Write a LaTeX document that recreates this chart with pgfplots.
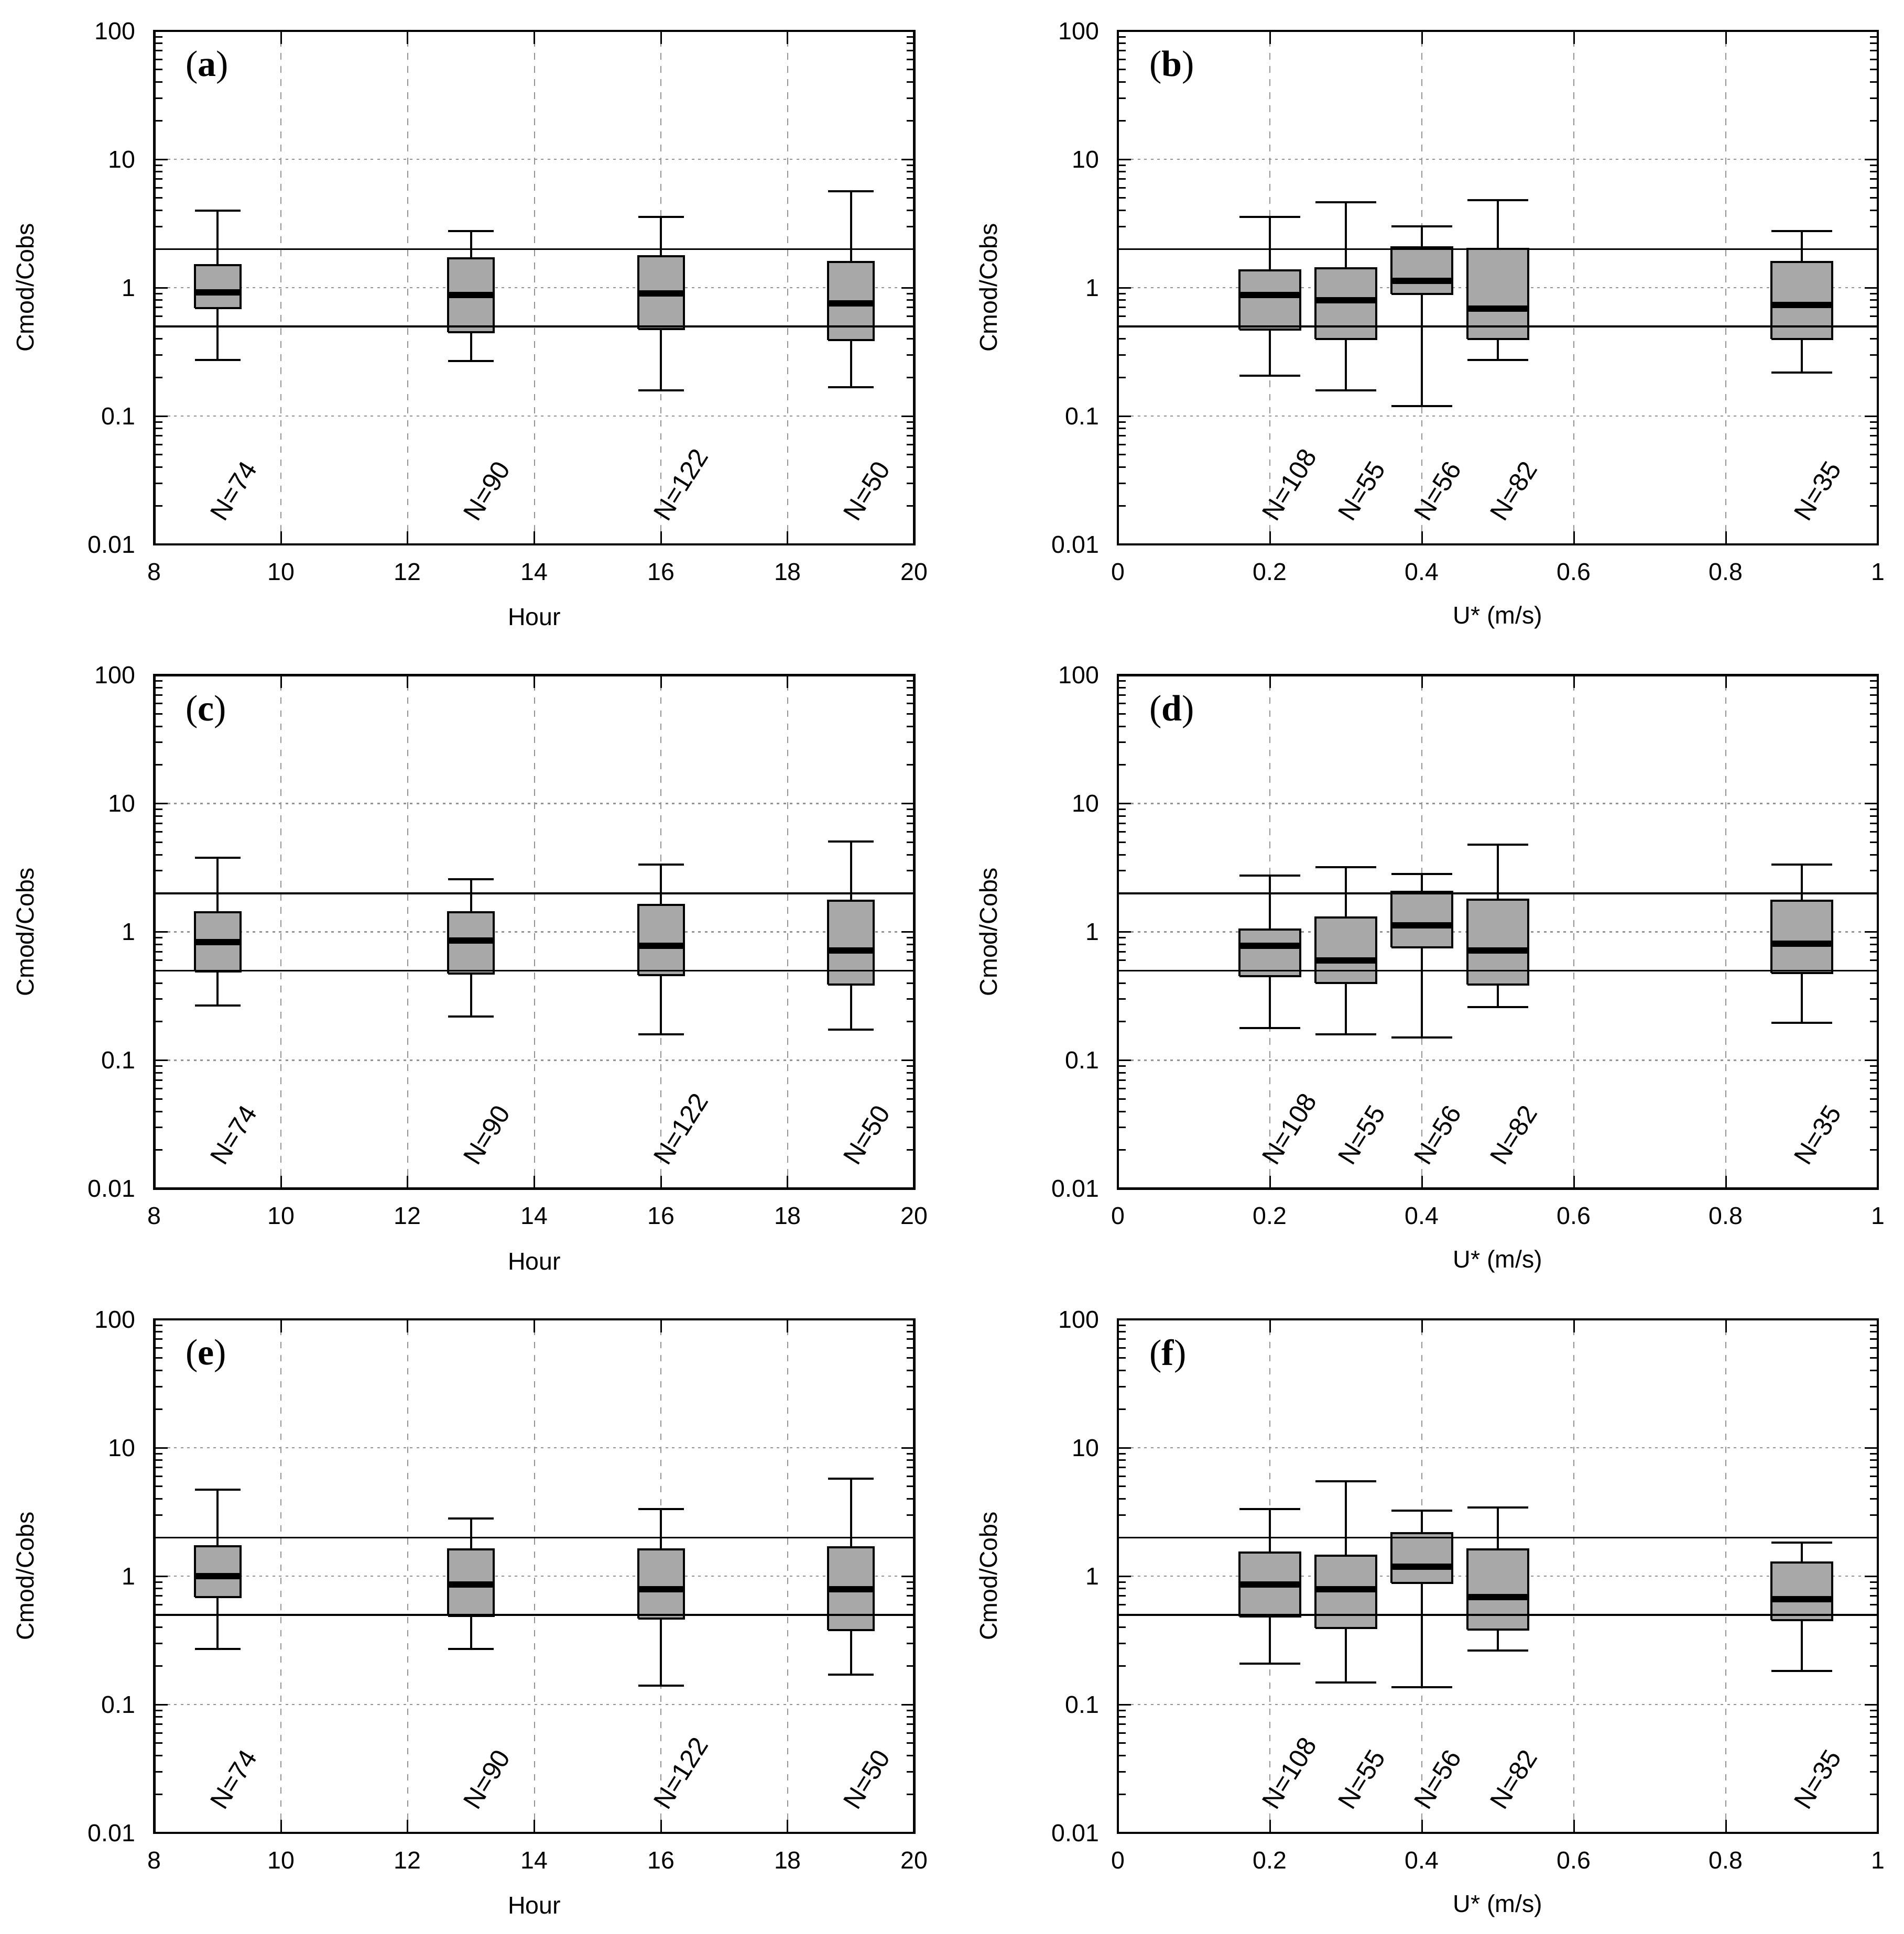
\documentclass[border=0pt]{standalone}
\usepackage{fontspec}
\setmainfont{Liberation Serif}
\setsansfont{Liberation Sans}
\usepackage{pgfplots}
\pgfplotsset{compat=1.18}
\usepgfplotslibrary{groupplots}
\definecolor{boxgray}{RGB}{168,168,168}

% #1 left, #2 centre, #3 right, #4 lower whisker, #5 q1, #6 median, #7 q3, #8 upper whisker
\newcommand\bx[8]{%
\addplot[draw=black, line width=0.8pt, fill=boxgray] coordinates {(#1,#5) (#3,#5) (#3,#7) (#1,#7) (#1,#5)};
\addplot[black, line width=0.8pt] coordinates {(#2,#7) (#2,#8)};
\addplot[black, line width=0.8pt] coordinates {(#1,#8) (#3,#8)};
\addplot[black, line width=0.8pt] coordinates {(#2,#4) (#2,#5)};
\addplot[black, line width=0.8pt] coordinates {(#1,#4) (#3,#4)};
\addplot[black, line width=2.4pt] coordinates {(#1,#6) (#3,#6)};
}
\newcommand\nl[2]{\node[rotate=58, anchor=south west, inner sep=0pt, font=\sffamily\fontsize{10}{12}\selectfont] at ([xshift=2.7pt]axis cs:#1,0.0146) {N=#2};}
\newcommand\pl[1]{\node[anchor=west, inner sep=0pt, font=\rmfamily\fontsize{14}{16}\selectfont] at ([xshift=11.8pt,yshift=-14pt]rel axis cs:0,1) {(\textbf{#1})};}
\newcommand\reflinesH{%
\addplot[black, line width=0.7pt] coordinates {(8,2) (20,2)};
\addplot[black, line width=0.7pt] coordinates {(8,0.5) (20,0.5)};}
\newcommand\reflinesU{%
\addplot[black, line width=0.7pt] coordinates {(0,2) (1,2)};
\addplot[black, line width=0.7pt] coordinates {(0,0.5) (1,0.5)};}

\pgfplotsset{
  hourax/.style={xmin=8, xmax=20, xtick={8,10,12,14,16,18,20}, xticklabels={8,10,12,14,16,18,20}, xlabel={Hour}},
  uax/.style={xmin=0, xmax=1, xtick={0,0.2,0.4,0.6,0.8,1}, xticklabels={0,0.2,0.4,0.6,0.8,1}, xlabel={U* (m/s)}},
}

\begin{document}
\begin{tikzpicture}
\begin{groupplot}[
  group style={group name=G, group size=2 by 3, horizontal sep=77.7pt, vertical sep=49.9pt},
  width=290pt, height=196pt, scale only axis,
  ymode=log, ymin=0.01, ymax=100,
  ytick={0.01,0.1,1,10,100}, yticklabels={0.01,0.1,1,10,100},
  tick align=inside,
  major tick length=5pt, minor tick length=3pt,
  xmajorgrids, ymajorgrids,
  x grid style={gray!85, dash pattern=on 2.5pt off 2.5pt, line width=0.4pt},
  y grid style={gray!85, dash pattern=on 1pt off 1.5pt, line width=0.5pt},
  axis line style={line width=0.9pt},
  every tick/.style={black, line width=0.6pt},
  tick label style={font=\sffamily\fontsize{9.3}{11}\selectfont},
  label style={font=\sffamily\fontsize{9.3}{11}\selectfont},
  ylabel={Cmod/Cobs},
  ylabel style={at={(axis description cs:-0.1703,0.5)}, anchor=center},
  xlabel style={at={(axis description cs:0.5,-0.1418)}, anchor=center},
  yticklabel style={inner sep=0pt, xshift=-7pt},
  xticklabel style={inner sep=0pt, yshift=-7pt},
  no markers,
]
% (a)
\nextgroupplot[hourax]
\bx{8.64}{9}{9.36}{0.273}{0.69}{0.92}{1.50}{3.99}
\bx{12.64}{13}{13.36}{0.268}{0.451}{0.874}{1.69}{2.75}
\bx{15.64}{16}{16.36}{0.159}{0.474}{0.90}{1.75}{3.55}
\bx{18.64}{19}{19.36}{0.168}{0.389}{0.755}{1.59}{5.66}
\reflinesH
\nl{9}{74}\nl{13}{90}\nl{16}{122}\nl{19}{50}
\pl{a}
% (b)
\nextgroupplot[uax]
\bx{0.16}{0.2}{0.24}{0.206}{0.471}{0.874}{1.37}{3.55}
\bx{0.26}{0.3}{0.34}{0.159}{0.399}{0.797}{1.42}{4.62}
\bx{0.36}{0.4}{0.44}{0.119}{0.895}{1.13}{2.06}{2.99}
\bx{0.46}{0.5}{0.54}{0.273}{0.399}{0.688}{2.0}{4.80}
\bx{0.86}{0.9}{0.94}{0.219}{0.399}{0.736}{1.59}{2.75}
\reflinesU
\nl{0.2}{108}\nl{0.3}{55}\nl{0.4}{56}\nl{0.5}{82}\nl{0.9}{35}
\pl{b}
% (c)
\nextgroupplot[hourax]
\bx{8.64}{9}{9.36}{0.268}{0.494}{0.832}{1.42}{3.78}
\bx{12.64}{13}{13.36}{0.219}{0.474}{0.858}{1.42}{2.58}
\bx{15.64}{16}{16.36}{0.159}{0.462}{0.783}{1.63}{3.36}
\bx{18.64}{19}{19.36}{0.173}{0.389}{0.718}{1.75}{5.04}
\reflinesH
\nl{9}{74}\nl{13}{90}\nl{16}{122}\nl{19}{50}
\pl{c}
% (d)
\nextgroupplot[uax]
\bx{0.16}{0.2}{0.24}{0.179}{0.451}{0.783}{1.04}{2.75}
\bx{0.26}{0.3}{0.34}{0.159}{0.399}{0.601}{1.30}{3.18}
\bx{0.36}{0.4}{0.44}{0.150}{0.755}{1.13}{2.06}{2.83}
\bx{0.46}{0.5}{0.54}{0.260}{0.389}{0.714}{1.79}{4.80}
\bx{0.86}{0.9}{0.94}{0.195}{0.477}{0.807}{1.75}{3.36}
\reflinesU
\nl{0.2}{108}\nl{0.3}{55}\nl{0.4}{56}\nl{0.5}{82}\nl{0.9}{35}
\pl{d}
% (e)
\nextgroupplot[hourax]
\bx{8.64}{9}{9.36}{0.271}{0.685}{1.0}{1.71}{4.72}
\bx{12.64}{13}{13.36}{0.271}{0.489}{0.858}{1.62}{2.81}
\bx{15.64}{16}{16.36}{0.140}{0.469}{0.788}{1.62}{3.33}
\bx{18.64}{19}{19.36}{0.171}{0.381}{0.788}{1.68}{5.74}
\reflinesH
\nl{9}{74}\nl{13}{90}\nl{16}{122}\nl{19}{50}
\pl{e}
% (f)
\nextgroupplot[uax]
\bx{0.16}{0.2}{0.24}{0.208}{0.486}{0.864}{1.53}{3.33}
\bx{0.26}{0.3}{0.34}{0.148}{0.393}{0.788}{1.44}{5.46}
\bx{0.36}{0.4}{0.44}{0.136}{0.885}{1.19}{2.16}{3.23}
\bx{0.46}{0.5}{0.54}{0.264}{0.383}{0.685}{1.62}{3.43}
\bx{0.86}{0.9}{0.94}{0.182}{0.455}{0.664}{1.28}{1.82}
\reflinesU
\nl{0.2}{108}\nl{0.3}{55}\nl{0.4}{56}\nl{0.5}{82}\nl{0.9}{35}
\pl{f}
\end{groupplot}
\pgfresetboundingbox
\path ([shift={(-58.9pt,11.8pt)}]G c1r1.north west) rectangle ([shift={(9.9pt,-38.6pt)}]G c2r3.south east);
\end{tikzpicture}
\end{document}
